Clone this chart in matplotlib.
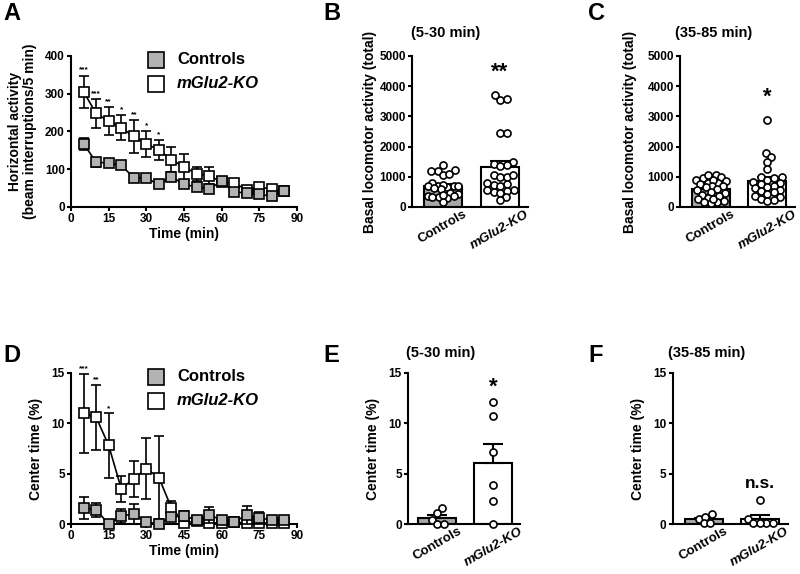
import numpy as np
import matplotlib
matplotlib.use("Agg")
import matplotlib.pyplot as plt

plt.rcParams["font.family"] = ["Liberation Sans", "DejaVu Sans"]
plt.rcParams["font.weight"] = "bold"

# time course (A, D)
times = [5, 10, 15, 20, 25, 30, 35, 40, 45, 50, 55, 60, 65, 70, 75, 80, 85]

act_ctrl = [168, 118, 117, 110, 78, 76, 60, 80, 60, 53, 48, 68, 40, 37, 34, 28, 42]
act_ctrl_sem = [16, 13, 10, 10, 7, 8, 7, 12, 8, 7, 7, 8, 7, 6, 6, 6, 7]
act_ko = [305, 248, 227, 210, 187, 167, 151, 125, 106, 88, 83, 66, 63, 46, 52, 48, 42]
act_ko_sem = [43, 38, 37, 33, 43, 35, 27, 34, 35, 18, 22, 10, 8, 8, 10, 10, 6]
act_stars = ["***", "***", "**", "*", "**", "*", "*"]

ct_ctrl = [1.6, 1.4, 0.0, 0.8, 1.0, 0.2, 0.0, 0.7, 0.8, 0.4, 0.9, 0.4, 0.2, 0.9, 0.6, 0.4, 0.4]
ct_ctrl_sem = [1.1, 0.7, 0.05, 0.7, 1.0, 0.1, 0.05, 0.3, 0.5, 0.2, 0.8, 0.3, 0.2, 0.9, 0.6, 0.3, 0.2]
ct_ko = [11.0, 10.6, 7.8, 3.5, 4.5, 5.5, 4.6, 1.6, 0.1, 0.3, 0.1, 0.1, 0.2, 0.1, 0.1, 0.1, 0.1]
ct_ko_sem = [3.9, 3.2, 3.2, 1.3, 1.8, 3.0, 4.1, 0.7, 0.2, 0.1, 0.1, 0.2, 0.1, 0.1, 0.2, 0.1, 0.1]
ct_stars = ["***", "**", "*"]

groups = ["Controls", "mGlu2-KO"]

# individual animals (B, C, E, F)
b_ctrl = [1400, 1200, 1050, 1220, 1100, 1200, 700, 680, 700, 780, 650, 720,
          680, 450, 430, 350, 330, 310, 360, 330, 150, 600, 640, 400]
b_ko = [3550, 3580, 3700, 2450, 2450, 1480, 1420, 1390, 1370, 1050, 980, 1000,
        1060, 780, 730, 760, 690, 570, 560, 540, 480, 450, 330, 230]
c_ctrl = [1050, 1000, 950, 900, 850, 800, 750, 800, 900, 1050, 700, 680, 650,
          600, 550, 500, 450, 400, 350, 300, 250, 200, 150, 120, 180, 260]
c_ko = [2870, 1800, 1650, 1480, 1250, 1000, 980, 950, 900, 820, 800, 760,
        700, 660, 620, 560, 520, 480, 420, 380, 320, 260, 220, 200]
e_ctrl = [1.6, 1.1, 0.35, 0.0, 0.0]
e_ko = [12.1, 10.7, 7.2, 3.9, 2.3, 0.0]
f_ctrl = [0.5, 0.95, 0.72, 0.07, 0.07]
f_ko = [2.4, 0.45, 0.1, 0.1, 0.1, 0.1]

GRAY_SQ = "#b3b3b3"
GRAY_BAR = "#a8a8a8"
LW = 1.5

fig = plt.figure(figsize=(8, 5.74), dpi=100)


def style_axes(ax):
    for s in ["top", "right"]:
        ax.spines[s].set_visible(False)
    for s in ["left", "bottom"]:
        ax.spines[s].set_linewidth(LW)
    ax.tick_params(width=LW, length=3, labelsize=8.5, pad=1.5)
    for lab in ax.get_xticklabels() + ax.get_yticklabels():
        lab.set_fontweight("bold")


def time_panel(rect, ctrl, ctrl_sem, ko, ko_sem, ymax, yticks, ylabel, ylab_x, stars, star_off):
    ax = fig.add_axes(rect)
    ax.errorbar(times, ko, yerr=ko_sem, color="black", lw=1.2, capsize=3.5,
                capthick=1.2, marker="s", ms=7, mfc="white", mec="black",
                mew=1.2, zorder=3, clip_on=False)
    ax.errorbar(times, ctrl, yerr=ctrl_sem, color="black", lw=1.2, capsize=3.5,
                capthick=1.2, marker="s", ms=7, mfc=GRAY_SQ, mec="black",
                mew=1.2, zorder=4, clip_on=False)
    for i, s in enumerate(stars):
        ax.text(times[i], ko[i] + ko_sem[i] + star_off, s, ha="center",
                va="bottom", fontsize=6, fontweight="bold")
    ax.set_xlim(0, 90)
    ax.set_ylim(0, ymax)
    ax.set_xticks(range(0, 91, 15))
    ax.set_yticks(yticks)
    ax.set_xlabel("Time (min)", fontsize=10, fontweight="bold")
    ax.xaxis.set_label_coords(0.5, -0.13)
    ax.set_ylabel(ylabel, fontsize=10, fontweight="bold", linespacing=1.1)
    ax.yaxis.set_label_coords(ylab_x, 0.5)
    style_axes(ax)
    # legend
    ax.plot([0.376], [0.974], "s", ms=12, mfc=GRAY_SQ, mec="black", mew=1.2,
            transform=ax.transAxes, clip_on=False)
    ax.plot([0.376], [0.815], "s", ms=12, mfc="white", mec="black", mew=1.2,
            transform=ax.transAxes, clip_on=False)
    ax.text(0.469, 0.974, groups[0], transform=ax.transAxes, fontsize=12,
            fontweight="bold", va="center")
    ax.text(0.469, 0.815, groups[1], transform=ax.transAxes, fontsize=12,
            fontweight="bold", style="italic", va="center")
    return ax


def swarm(ax, xc, vals, d_px=6.5, max_px=15):
    # column-scatter layout: spread points sideways, kept inside the bar
    pts = ax.transData.transform(np.column_stack([np.full(len(vals), xc), vals]))
    px_per_x = (ax.transData.transform((1, 0)) - ax.transData.transform((0, 0)))[0]
    cand = [0.0]
    k = 1
    while k * 0.5 <= max_px:
        cand += [k * 0.5, -k * 0.5]
        k += 1
    placed = []
    xs = np.zeros(len(vals))
    for i in np.argsort(vals):
        y = pts[i, 1]
        best, best_d = 0.0, -1
        for dx in cand:
            x = pts[i, 0] + dx
            dmin = min([np.hypot(x - px, y - py) for px, py in placed] + [1e9])
            if dmin >= d_px:
                best = dx
                break
            if dmin > best_d:
                best, best_d = dx, dmin
        placed.append((pts[i, 0] + best, y))
        xs[i] = xc + best / px_per_x
    return xs


def bar_panel(rect, ctrl, ko, ymax, yticks, ylabel, ylab_x, xlim, title, mark, mark_y, mark_size):
    ax = fig.add_axes(rect)
    ax.set_xlim(*xlim)
    ax.set_ylim(0, ymax)
    for i, (vals, fc) in enumerate([(ctrl, GRAY_BAR), (ko, "white")]):
        vals = np.array(vals, dtype=float)
        m = vals.mean()
        sem = vals.std(ddof=1) / np.sqrt(len(vals))
        ax.bar(i, m, width=0.67, color=fc, edgecolor="black", lw=LW, zorder=1)
        ax.errorbar(i, m, yerr=[[0], [sem]], color="black", lw=LW, capsize=7,
                    capthick=LW, zorder=2)
        xs = swarm(ax, i, vals)
        ax.scatter(xs, vals, s=26, facecolor="white", edgecolor="black",
                   lw=1.2, zorder=3, clip_on=False)
    ax.set_xticks([0, 1])
    ax.set_xticklabels(groups, rotation=30, ha="center")
    ax.set_yticks(yticks)
    ax.set_ylabel(ylabel, fontsize=10, fontweight="bold")
    ax.yaxis.set_label_coords(ylab_x, 0.5)
    style_axes(ax)
    ax.tick_params(axis="x", length=0, pad=1, labelsize=9.5)
    ax.get_xticklabels()[1].set_style("italic")
    ax.text(0.29, title[1], title[0], transform=ax.transAxes, ha="center",
            va="center", fontsize=10.5, fontweight="bold")
    ax.text(1, mark_y, mark, ha="center", va="center", fontsize=mark_size,
            fontweight="bold")
    return ax


time_panel([0.0888, 0.6394, 0.2825, 0.2631], act_ctrl, act_ctrl_sem, act_ko,
           act_ko_sem, 400, range(0, 401, 100),
           "Horizontal activity\n(beam interruptions/5 min)", -0.15,
           act_stars, 5)
time_panel([0.0888, 0.0871, 0.2825, 0.2631], ct_ctrl, ct_ctrl_sem, ct_ko,
           ct_ko_sem, 15, range(0, 16, 5), "Center time (%)", -0.125,
           ct_stars, 0.15)

bar_panel([0.515, 0.6394, 0.145, 0.2631], b_ctrl, b_ko, 5000,
          range(0, 5001, 1000), "Basal locomotor activity (total)", -0.30,
          (-0.54, 1.49), ("(5-30 min)", 1.15), "**", 4450, 16)
bar_panel([0.85, 0.6394, 0.144, 0.2631], c_ctrl, c_ko, 5000,
          range(0, 5001, 1000), "Basal locomotor activity (total)", -0.37,
          (-0.55, 1.5), ("(35-85 min)", 1.15), "*", 3650, 16)
bar_panel([0.51, 0.0871, 0.14, 0.2631], e_ctrl, e_ko, 15, range(0, 16, 5),
          "Center time (%)", -0.25, (-0.52, 1.48), ("(5-30 min)", 1.13),
          "*", 13.6, 16)
bar_panel([0.841, 0.0871, 0.144, 0.2631], f_ctrl, f_ko, 15, range(0, 16, 5),
          "Center time (%)", -0.245, (-0.55, 1.5), ("(35-85 min)", 1.13),
          "n.s.", 4.0, 12.5)

# panel letters
for lab, x, y in [("A", 0.004, 0.997), ("B", 0.404, 0.997), ("C", 0.735, 0.997),
                  ("D", 0.004, 0.401), ("E", 0.404, 0.401), ("F", 0.735, 0.401)]:
    fig.text(x, y, lab, fontsize=17, fontweight="bold", va="top", ha="left")

fig.savefig("out.png", dpi=100)
